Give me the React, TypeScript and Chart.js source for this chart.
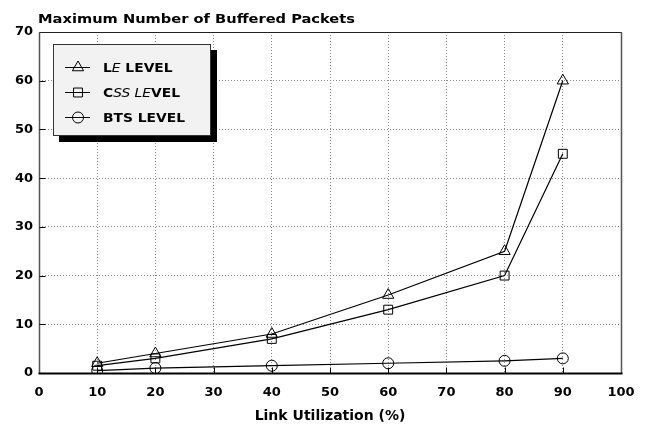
import React, { useEffect, useRef } from "react";
import { Chart, registerables } from "chart.js";
import { drawPoint } from "chart.js/helpers";

Chart.register(...registerables);

// Link utilisation (%) at which each level was measured
const utilization = [10, 20, 40, 60, 80, 90];
// Maximum buffered packets per level
const leLevel = [2, 4, 8, 16, 25, 60];
const cssLevel = [1.5, 3, 7, 13, 20, 45];
const btsLevel = [0.5, 1, 1.5, 2, 2.5, 3];

const chartTitle = "Maximum Number of Buffered Packets";
const xAxisTitle = "Link Utilization (%)";

// Legend labels as [text, italic] runs
const leLabel: [string, boolean][] = [["L", false], ["E", true], [" LEVEL", false]];
const cssLabel: [string, boolean][] = [["C", false], ["SS LE", true], ["VEL", false]];
const btsLabel: [string, boolean][] = [["BTS LEVEL", false]];

const FAMILY = '"DejaVu Sans", "Liberation Sans", sans-serif';

function runFont(italic: boolean, size: number) {
  return italic ? `italic ${size}px ${FAMILY}` : `bold ${size}px ${FAMILY}`;
}

function measureRuns(ctx: CanvasRenderingContext2D, runs: [string, boolean][], size: number) {
  let w = 0;
  for (const [t, it] of runs) {
    ctx.font = runFont(it, size);
    w += ctx.measureText(t).width;
  }
  return w;
}

function drawRuns(
  ctx: CanvasRenderingContext2D,
  runs: [string, boolean][],
  x: number,
  baseline: number,
  size: number,
  sx: number
) {
  ctx.save();
  ctx.translate(x, baseline);
  ctx.scale(sx, 1);
  ctx.textAlign = "left";
  ctx.textBaseline = "alphabetic";
  ctx.fillStyle = "#000";
  let cx = 0;
  for (const [t, it] of runs) {
    ctx.font = runFont(it, size);
    ctx.fillText(t, cx, 0);
    cx += ctx.measureText(t).width;
  }
  ctx.restore();
}

const framePlugin = {
  id: "frame",
  afterDraw(chart: any) {
    const ctx: CanvasRenderingContext2D = chart.ctx;
    const { left, right, top, bottom } = chart.chartArea;
    const xs = chart.scales.x;
    const ys = chart.scales.y;
    const L = Math.round(left) + 0.5;
    const R = Math.round(right) + 0.5;
    const T = Math.round(top) + 0.5;
    const B = Math.round(bottom) + 0.5;

    ctx.save();
    ctx.setLineDash([]);
    // top edge
    ctx.strokeStyle = "#222";
    ctx.lineWidth = 1;
    ctx.beginPath();
    ctx.moveTo(L, T);
    ctx.lineTo(R, T);
    ctx.stroke();
    // left and right edges
    ctx.strokeStyle = "#555";
    ctx.lineWidth = 1.5;
    ctx.beginPath();
    ctx.moveTo(L, T);
    ctx.lineTo(L, B);
    ctx.moveTo(R, T);
    ctx.lineTo(R, B);
    ctx.stroke();
    // bottom axis
    ctx.strokeStyle = "#000";
    ctx.lineWidth = 2;
    ctx.beginPath();
    ctx.moveTo(L - 1, B);
    ctx.lineTo(R + 1, B);
    ctx.stroke();

    // inner tick marks
    ctx.lineWidth = 1;
    ctx.strokeStyle = "#000";
    ctx.beginPath();
    for (const t of xs.ticks) {
      if (t.value <= xs.min || t.value >= xs.max) continue;
      const px = Math.round(xs.getPixelForValue(t.value)) + 0.5;
      ctx.moveTo(px, B);
      ctx.lineTo(px, B - 6);
    }
    for (const t of ys.ticks) {
      if (t.value <= ys.min || t.value >= ys.max) continue;
      const py = Math.round(ys.getPixelForValue(t.value)) + 0.5;
      ctx.moveTo(L, py);
      ctx.lineTo(L + 6, py);
    }
    ctx.stroke();

    // chart title
    const tRuns: [string, boolean][] = [[chartTitle, false]];
    const tSize = 12.5;
    const tw = measureRuns(ctx, tRuns, tSize);
    drawRuns(ctx, tRuns, 38, 23, tSize, 317 / tw);

    // legend
    const bx = 53,
      by = 44,
      bw = 158,
      bh = 92;
    ctx.fillStyle = "#000";
    ctx.fillRect(bx + 6, by + 6, bw, bh);
    ctx.fillStyle = "#f2f2f2";
    ctx.fillRect(bx, by, bw, bh);
    ctx.strokeStyle = "#333";
    ctx.lineWidth = 1;
    ctx.strokeRect(bx + 0.5, by + 0.5, bw - 1, bh - 1);

    const rows: { runs: [string, boolean][]; style: string; radius: number }[] = [
      { runs: leLabel, style: "triangle", radius: 6.5 },
      { runs: cssLabel, style: "rect", radius: 6.3 },
      { runs: btsLabel, style: "circle", radius: 5.5 },
    ];
    const lSize = 12.5;
    const lsx = 82 / measureRuns(ctx, btsLabel, lSize);
    rows.forEach((row, i) => {
      const cy = 67 + i * 25;
      ctx.strokeStyle = "#000";
      ctx.lineWidth = 1;
      ctx.beginPath();
      ctx.moveTo(65, cy + 0.5);
      ctx.lineTo(90, cy + 0.5);
      ctx.stroke();
      ctx.fillStyle = "rgba(0,0,0,0)";
      drawPoint(ctx, { pointStyle: row.style, radius: row.radius, borderWidth: 1, rotation: 0 } as any, 78, cy + 0.5);
      drawRuns(ctx, row.runs, 103, cy + 4.5, lSize, lsx);
    });
    ctx.restore();
  },
};

export default function App() {
  const canvasRef = useRef<HTMLCanvasElement | null>(null);

  useEffect(() => {
    document.body.style.margin = "0";
    const canvas = canvasRef.current;
    if (!canvas) return;
    const tickFont = { family: FAMILY, size: 13, weight: "bold" as const };
    const pts = (ys: number[]) => utilization.map((x, i) => ({ x, y: ys[i] }));
    const common = {
      borderColor: "#000",
      borderWidth: 1.2,
      pointBackgroundColor: "rgba(0,0,0,0)",
      pointBorderColor: "#000",
      pointBorderWidth: 1,
      tension: 0,
      fill: false,
    };
    const chart = new Chart(canvas, {
      type: "line",
      data: {
        datasets: [
          { ...common, label: "LE LEVEL", data: pts(leLevel), pointStyle: "triangle", pointRadius: 6.5 },
          { ...common, label: "CSS LEVEL", data: pts(cssLevel), pointStyle: "rect", pointRadius: 6.3 },
          { ...common, label: "BTS LEVEL", data: pts(btsLevel), pointStyle: "circle", pointRadius: 5.5 },
        ],
      },
      options: {
        animation: false,
        responsive: false,
        devicePixelRatio: 1,
        layout: { padding: { top: 32, right: 26, left: 0, bottom: 0 } },
        plugins: { legend: { display: false }, title: { display: false }, tooltip: { enabled: false } },
        scales: {
          x: {
            type: "linear",
            min: 0,
            max: 100,
            ticks: { stepSize: 10, padding: 12, color: "#000", font: tickFont },
            grid: { color: "#8a8a8a", lineWidth: 1, drawTicks: false },
            border: { display: false, dash: [1, 2] },
            title: {
              display: true,
              text: xAxisTitle,
              color: "#000",
              font: { family: FAMILY, size: 14, weight: "bold" },
              padding: { top: 0, bottom: 0 },
            },
            afterFit: (s: any) => {
              s.height = 52;
            },
          },
          y: {
            type: "linear",
            min: 0,
            max: 70,
            ticks: { stepSize: 10, padding: 6, color: "#000", font: tickFont },
            grid: { color: "#8a8a8a", lineWidth: 1, drawTicks: false },
            border: { display: false, dash: [1, 2] },
            afterFit: (s: any) => {
              s.width = 39;
            },
          },
        },
      },
      plugins: [framePlugin],
    } as any);
    return () => chart.destroy();
  }, []);

  return (
    <div style={{ width: 647, height: 425, background: "#fff" }}>
      <canvas ref={canvasRef} width={647} height={425} />
    </div>
  );
}
